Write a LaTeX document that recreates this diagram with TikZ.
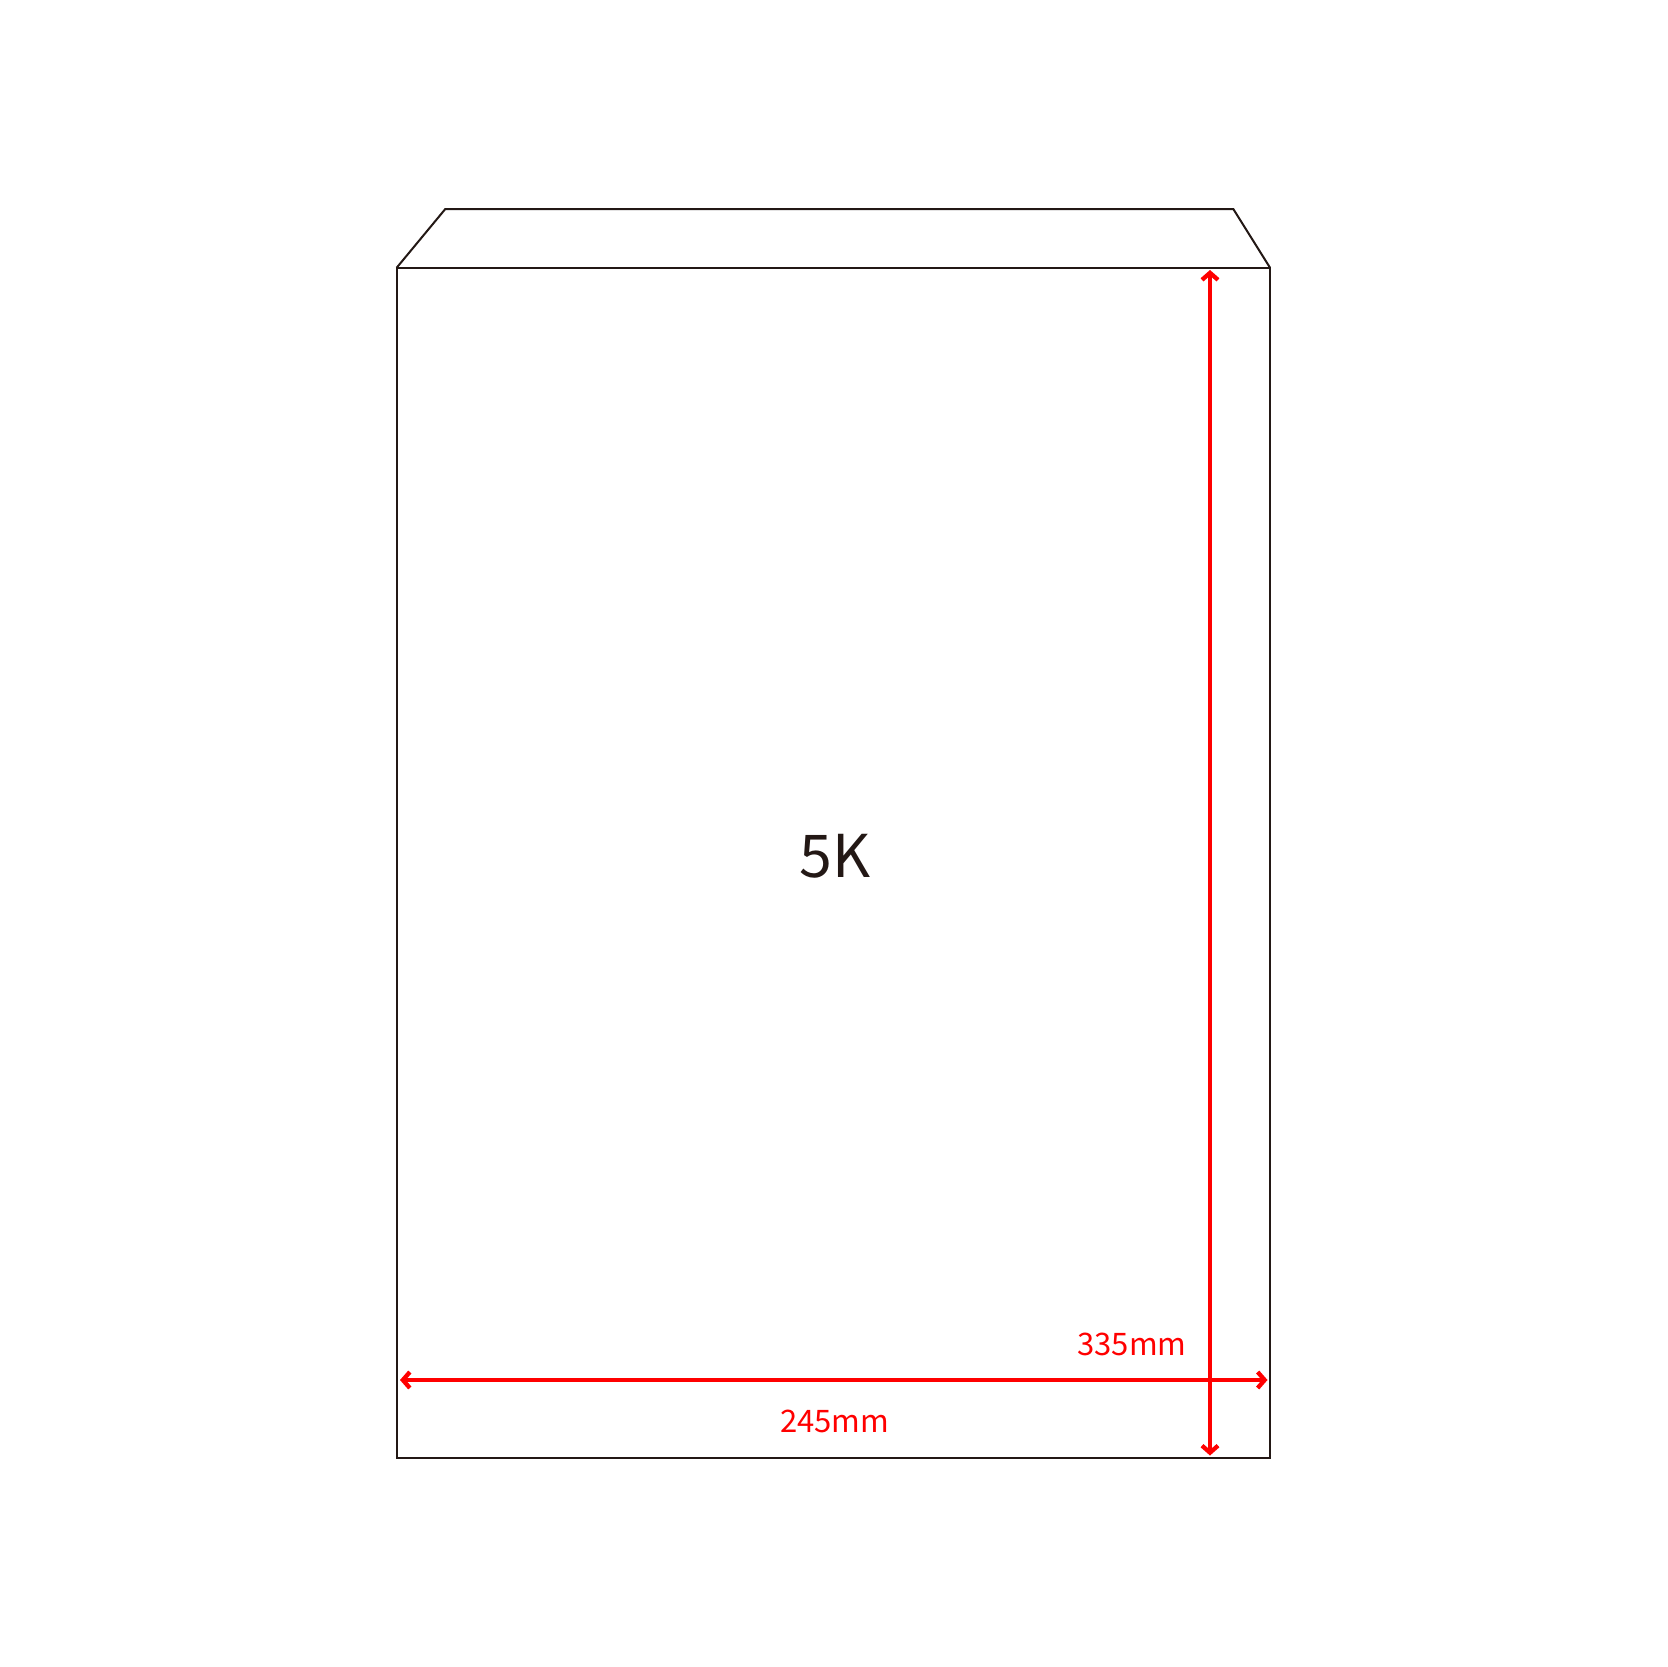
\documentclass[tikz,border=0pt]{standalone}
\usepackage{fontspec}
\setmainfont{Noto Sans CJK SC}
\usetikzlibrary{arrows.meta}
\definecolor{inkline}{HTML}{231815}
\tikzset{
  bagline/.style={draw=inkline, line width=2pt, line join=miter},
  dimline/.style={draw=red, line width=4.3pt, {Straight Barb[length=7pt,width=16pt]}-{Straight Barb[length=7pt,width=16pt]}},
  dimlabel/.style={text=red, font=\fontsize{31pt}{31pt}\selectfont, inner sep=0pt, anchor=base}
}
\begin{document}
\begin{tikzpicture}[x=1pt, y=-1pt]
\useasboundingbox (0,0) rectangle (1668,1667);
% bag outline
\coordinate (tl) at (396.7,267.7);
\coordinate (tr) at (1270,267.7);
\coordinate (bl) at (396.7,1457.5);
\coordinate (br) at (1270,1457.5);
\coordinate (fl) at (445.3,209);
\coordinate (fr) at (1233.3,209);
\draw[bagline] (tl) -- (br |- tl) -- (br) -- (bl) -- cycle;
\draw[bagline] (tl) -- (fl) -- (fr) -- (tr);

% dimensions
\coordinate (wl) at (400,1380);
\coordinate (wr) at (1267.5,1380);
\coordinate (ht) at (1210,270);
\coordinate (hb) at (1210,1455.5);
\draw[dimline] (wl) -- (wr);
\draw[dimline] (ht) -- (hb);

\node[dimlabel] (height) at (1132,1355.7) {335mm};
\node[dimlabel] (width) at (834.7,1432.3) {245mm};
\node[text=inkline, font=\fontsize{59pt}{59pt}\selectfont, inner sep=0pt, anchor=base] (size) at (835,877.3) {5K};
\end{tikzpicture}
\end{document}
